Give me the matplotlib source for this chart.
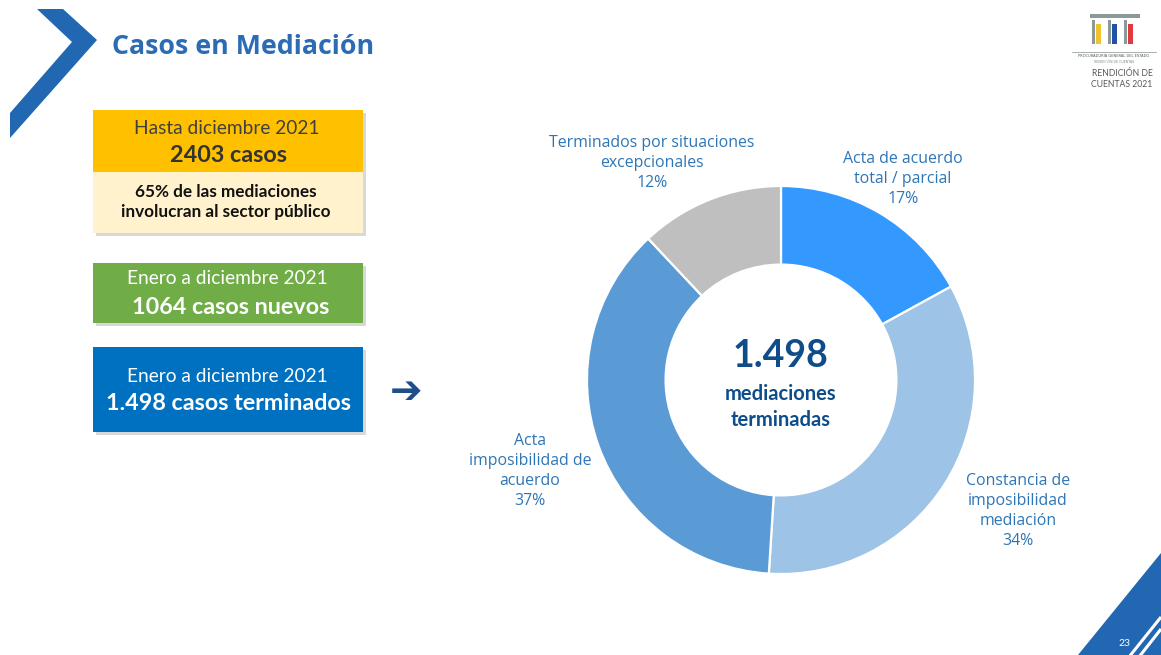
import matplotlib
matplotlib.use("Agg")
import matplotlib.pyplot as plt
from matplotlib.patches import Rectangle, Polygon

# ---------------- data ----------------
categories = ["Acta de acuerdo\ntotal / parcial",
              "Constancia de\nimposibilidad\nmediación",
              "Acta\nimposibilidad de\nacuerdo",
              "Terminados por situaciones\nexcepcionales"]
percentages = [17, 34, 37, 12]
slice_colors = ["#3399FF", "#9DC3E6", "#5B9BD5", "#BFBFBF"]
total_terminated = "1.498"
center_caption = ["mediaciones", "terminadas"]

title = "Casos en Mediación"
box_top_line1 = "Hasta diciembre 2021"
box_top_line2 = "2403 casos"
box_note = "65% de las mediaciones\ninvolucran al sector público"
box_new_line1 = "Enero a diciembre 2021"
box_new_line2 = "1064 casos nuevos"
box_end_line1 = "Enero a diciembre 2021"
box_end_line2 = "1.498 casos terminados"
page_number = "23"

# ---------------- figure ----------------
W, H = 1161, 655
fig = plt.figure(figsize=(W / 100, H / 100), dpi=100)
fig.patch.set_facecolor("white")

bg = fig.add_axes([0, 0, 1, 1])
bg.set_xlim(0, W)
bg.set_ylim(H, 0)
bg.axis("off")

FONT = "Lato"

# chevron top-left
bg.add_patch(Polygon([(37, 9), (63, 9), (97, 40), (10, 138), (10, 113), (72, 42)],
                     closed=True, facecolor="#2167B2", edgecolor="none"))
# title
bg.text(112, 47, title, fontsize=19.3, fontweight="bold", color="#2B6CB5",
        family="Open Sans", ha="left", va="center")

# logo top-right
bg.add_patch(Rectangle((1090, 14), 50, 4, facecolor="#8A9A9A", edgecolor="none"))
for x0, c in [(1092, "#F2C12E"), (1108, "#2451A6"), (1124, "#E0393E")]:
    bg.add_patch(Rectangle((x0, 20), 3, 24, facecolor="#8A9A9A", edgecolor="none"))
    bg.add_patch(Rectangle((x0 + 4, 24), 5, 20, facecolor=c, edgecolor="none"))
bg.plot([1072, 1156], [52, 52], color="#9AA5A5", lw=0.6)
bg.text(1114, 56, "PROCURADURÍA GENERAL DEL ESTADO", fontsize=2.6, color="#555555",
        ha="center", va="center")
bg.text(1114, 62, "RENDICIÓN DE CUENTAS", fontsize=2.3, color="#888888",
        ha="center", va="center")
bg.text(1122, 79, "RENDICIÓN DE\nCUENTAS 2021", fontsize=6.2, color="#595959",
        ha="center", va="center", family=FONT, linespacing=1.15)

# bottom-right decoration
bg.add_patch(Polygon([(1078, 655), (1161, 553), (1161, 655)], closed=True,
                     facecolor="#2167B2", edgecolor="none"))
bg.plot([1129, 1161], [657, 617], color="white", lw=2.2, solid_capstyle="butt")
bg.plot([1139, 1161], [657, 629], color="white", lw=2.2, solid_capstyle="butt")
bg.text(1124, 643, page_number, fontsize=7.5, color="white", ha="center",
        va="center", family=FONT)


def box(x, y, w, h, color, shadow=True):
    if shadow:
        bg.add_patch(Rectangle((x + 3, y + 3), w, h, facecolor="#C8C8C8",
                               edgecolor="none", alpha=0.7))
    bg.add_patch(Rectangle((x, y), w, h, facecolor=color, edgecolor="none"))


REG = 13.8
BOLD = 16.8

# yellow + cream box
bg.add_patch(Rectangle((96, 113), 270, 123, facecolor="#C8C8C8", edgecolor="none", alpha=0.7))
box(93, 110, 270, 62, "#FFC000", shadow=False)
box(93, 172, 270, 61, "#FFF2CC", shadow=False)
bg.text(227, 128, box_top_line1, fontsize=REG, color="#404040", ha="center",
        va="center", family=FONT)
bg.text(229, 155, box_top_line2, fontsize=BOLD, color="#333333", ha="center",
        va="center", family=FONT, fontweight="bold")
bg.text(226, 202, box_note, fontsize=12.3, color="#111111", ha="center",
        va="center", family=FONT, fontweight="bold", linespacing=1.3)

# green box
box(93, 263, 270, 60, "#70AD47")
bg.text(227, 279, box_new_line1, fontsize=REG, color="white", ha="center",
        va="center", family=FONT)
bg.text(231, 307, box_new_line2, fontsize=BOLD, color="white", ha="center",
        va="center", family=FONT, fontweight="bold")

# blue box
box(93, 347, 270, 85, "#0070C0")
bg.text(227, 376, box_end_line1, fontsize=REG, color="white", ha="center",
        va="center", family=FONT)
bg.text(229, 404, box_end_line2, fontsize=BOLD, color="white", ha="center",
        va="center", family=FONT, fontweight="bold")

# arrow
bg.text(406, 392, "➔", fontsize=28, color="#1F4E89", ha="center", va="center",
        family="DejaVu Sans", fontweight="bold")

# ---------------- donut ----------------
cx, cy, R = 781, 380, 194
ax = fig.add_axes([(cx - R) / W, (H - cy - R) / H, 2 * R / W, 2 * R / H])
ax.pie(percentages, colors=slice_colors, startangle=90, counterclock=False,
       radius=1.0, wedgeprops=dict(width=0.405, edgecolor="white", linewidth=1.6))
ax.set_xlim(-1, 1)
ax.set_ylim(-1, 1)
ax.set_aspect("equal")
ax.axis("off")

# center text
bg.text(cx, 356, total_terminated, fontsize=27, fontweight="bold", color="#0F4C8A",
        ha="center", va="center", family=FONT)
bg.text(cx, 394, center_caption[0], fontsize=14.5, fontweight="bold", color="#0F4C8A",
        ha="center", va="center", family=FONT)
bg.text(cx, 420, center_caption[1], fontsize=14.5, fontweight="bold", color="#0F4C8A",
        ha="center", va="center", family=FONT)

# slice labels (layout positions in pixels)
label_pos = [(903, 179), (1018, 511), (530, 471), (652, 163)]
for cat, pct, (lx, ly) in zip(categories, percentages, label_pos):
    bg.text(lx, ly, f"{cat}\n{pct}%", fontsize=11.4, color="#2E75B6",
            ha="center", va="center", family="Open Sans", linespacing=1.33)

fig.savefig("out.png", dpi=100, facecolor="white")
